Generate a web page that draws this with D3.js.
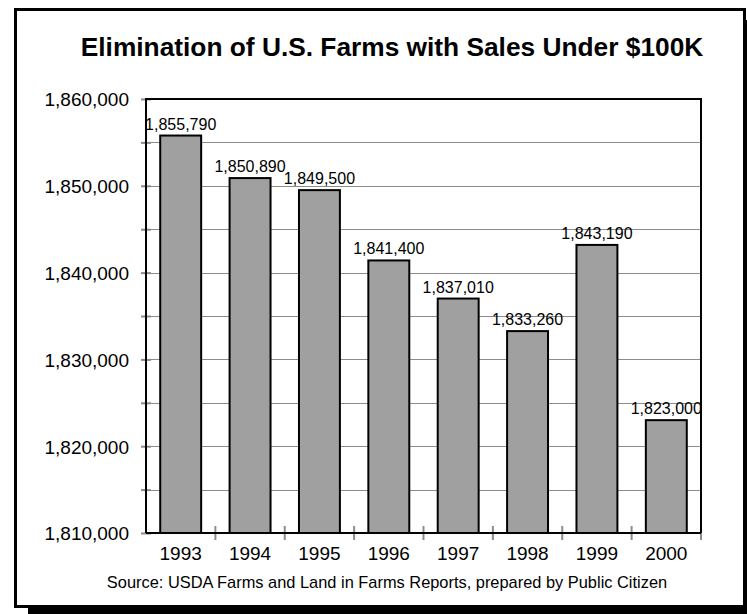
<!DOCTYPE html>
<html><head><meta charset="utf-8">
<script src="https://cdn.jsdelivr.net/npm/d3@7"></script>
<style>html,body{margin:0;padding:0;background:#fff;}svg{display:block;font-family:"Liberation Sans",Arial,sans-serif;}</style>
</head><body>
<script>
const years = ["1993","1994","1995","1996","1997","1998","1999","2000"];
const farms = [1855790,1850890,1849500,1841400,1837010,1833260,1843190,1823000];
const yLabelTicks = [1810000,1820000,1830000,1840000,1850000,1860000];
const yGridTicks = [1815000,1820000,1825000,1830000,1835000,1840000,1845000,1850000,1855000];
const titleText = "Elimination of U.S. Farms with Sales Under $100K";
const sourceText = "Source: USDA Farms and Land in Farms Reports, prepared by Public Citizen";

const W = 747, H = 614;
const m = {left:146, right:701, top:99, bottom:533};
const svg = d3.select("body").append("svg").attr("width",W).attr("height",H);

// frame with shadow
svg.append("rect").attr("x",28).attr("y",607).attr("width",W-28).attr("height",7).attr("fill","#000");
svg.append("rect").attr("x",743).attr("y",20).attr("width",4).attr("height",594).attr("fill","#000");
svg.append("rect").attr("x",15.5).attr("y",9.5).attr("width",729).attr("height",597)
  .attr("fill","#fff").attr("stroke","#000").attr("stroke-width",3);

svg.append("text").attr("x",392).attr("y",56).attr("text-anchor","middle")
  .attr("font-size",26.3).attr("font-weight","bold").text(titleText);

const x = d3.scaleBand().domain(years).range([m.left,m.right]).paddingInner(0.41).paddingOuter(0.205);
const xb = d3.scaleBand().domain(years).range([m.left,m.right]);
const y = d3.scaleLinear().domain([1810000,1860000]).range([m.bottom,m.top]);

// gridlines
svg.append("g").selectAll("line").data(yGridTicks).join("line")
  .attr("x1",m.left).attr("x2",m.right).attr("y1",d=>Math.round(y(d))+0.5).attr("y2",d=>Math.round(y(d))+0.5)
  .attr("stroke","#8c8c8c").attr("stroke-width",1);

// y axis
const yAxis = d3.axisLeft(y).tickValues(d3.range(1810000,1860001,5000)).tickSize(5).tickFormat(d=> yLabelTicks.includes(d)? d3.format(",")(d):"");
const gy = svg.append("g").attr("transform",`translate(${m.left},0)`).call(yAxis);
gy.select(".domain").remove();
gy.selectAll(".tick line").attr("stroke","#8c8c8c").attr("stroke-width",2).attr("x1",5);
gy.selectAll(".tick text").attr("font-size",19).attr("fill","#000").attr("x",-17).attr("dy","0.36em")
  .attr("font-family","'Liberation Sans',Arial,sans-serif");

// x axis ticks at band boundaries
const xAxis = d3.axisBottom(xb).tickSize(0).tickPadding(14);
const gx = svg.append("g").attr("transform",`translate(0,${m.bottom})`).call(xAxis);
gx.select(".domain").remove();
gx.selectAll(".tick text").attr("font-size",19).attr("fill","#000").attr("font-family","'Liberation Sans',Arial,sans-serif");
svg.append("g").selectAll("line").data(years.slice(1).concat(["end"])).join("line")
  .attr("x1",(d,i)=> i<years.length-1 ? xb(d) : m.right).attr("x2",(d,i)=> i<years.length-1 ? xb(d) : m.right)
  .attr("y1",m.bottom-7).attr("y2",m.bottom+7).attr("stroke","#8c8c8c").attr("stroke-width",2);

// bars
svg.append("g").selectAll("rect").data(farms).join("rect")
  .attr("x",(d,i)=>x(years[i])).attr("width",x.bandwidth())
  .attr("y",d=>y(d)).attr("height",d=>y(1810000)-y(d))
  .attr("fill","#a0a0a0").attr("stroke","#000").attr("stroke-width",2);

// plot border
svg.append("path").attr("d",`M${m.left},${m.bottom}V${m.top}H${m.right}V${m.bottom}`).attr("fill","none").attr("stroke","#000").attr("stroke-width",2);
svg.append("line").attr("x1",m.left).attr("x2",m.right).attr("y1",m.bottom).attr("y2",m.bottom).attr("stroke","#000").attr("stroke-width",2);

// value labels
svg.append("g").selectAll("text").data(farms).join("text")
  .attr("x",(d,i)=>x(years[i])+x.bandwidth()/2).attr("y",d=>y(d)-6)
  .attr("text-anchor","middle").attr("font-size",16).text(d=>d3.format(",")(d));

svg.append("text").attr("x",387).attr("y",588).attr("text-anchor","middle").attr("font-size",16.4).text(sourceText);
</script>
</body></html>
